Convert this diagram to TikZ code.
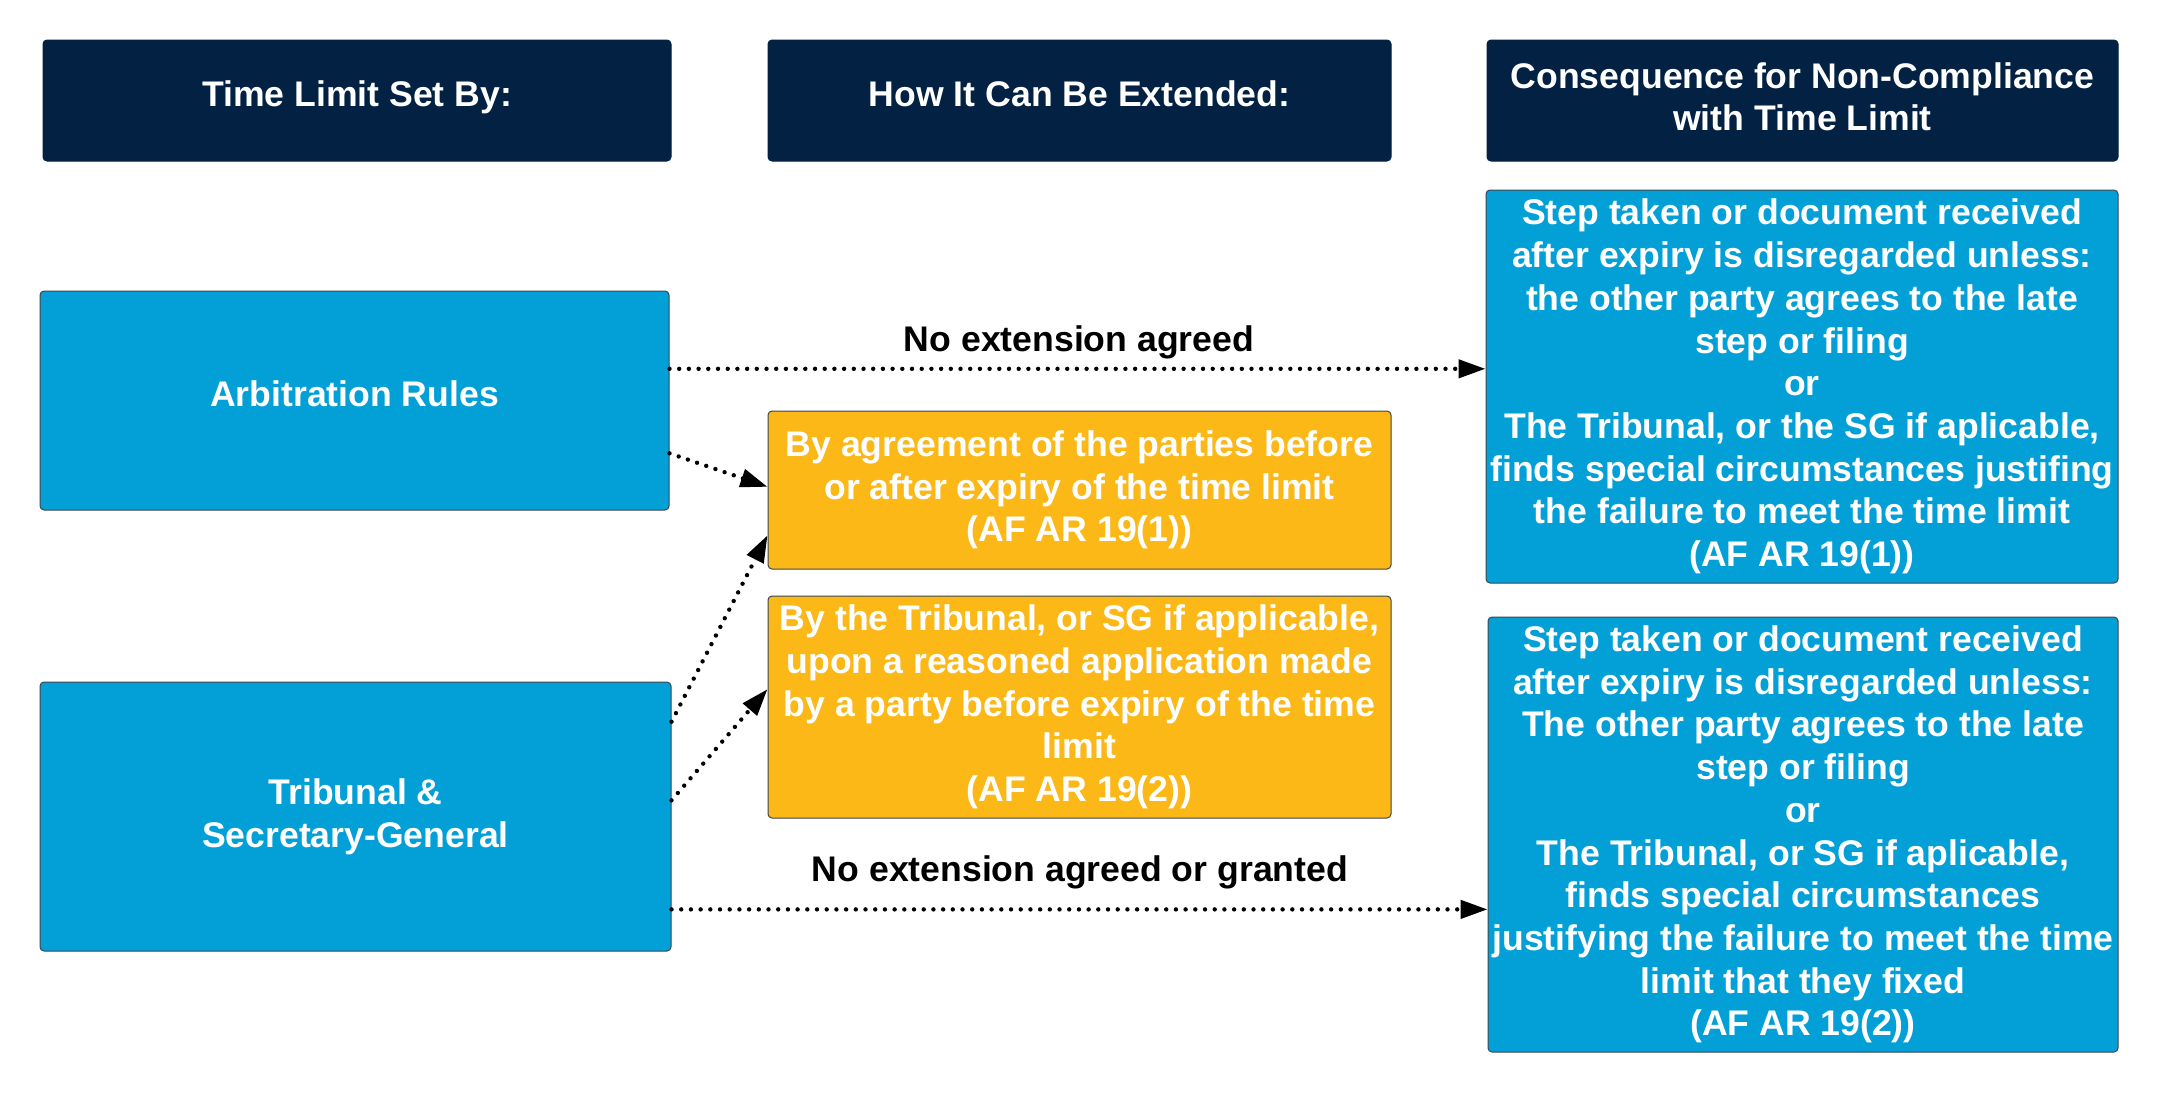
\documentclass[tikz,border=0pt]{standalone}
\usepackage{fontspec}
\setmainfont{Liberation Sans}
\usetikzlibrary{arrows.meta,calc}
\definecolor{navy}{HTML}{022143}
\definecolor{skyblue}{HTML}{03A0D8}
\definecolor{amber}{HTML}{FBB817}
\definecolor{edgegray}{HTML}{3C4650}
\begin{document}
\begin{tikzpicture}[x=0.5pt,y=-0.5pt,
  txt/.style={font=\fontsize{17.8pt}{21.35pt}\selectfont\bfseries, text=white, align=center, inner sep=0pt},
  headbox/.style={txt, fill=navy, draw=navy, line width=0.5pt, rounded corners=2pt},
  bluebox/.style={txt, fill=skyblue, draw=edgegray, line width=0.5pt, rounded corners=2pt},
  ambox/.style={txt, fill=amber, draw=edgegray, line width=0.5pt, rounded corners=2pt},
  oneline/.style={text height=12.5pt, text depth=6.5pt},
  lbl/.style={font=\fontsize{17.8pt}{21.35pt}\selectfont\bfseries, text=black, inner sep=0pt},
  conn/.style={line width=2.2pt, line cap=round, dash pattern=on 0pt off 4.85pt, -{Triangle[length=13.5pt,width=9pt]}}
]
\useasboundingbox (0,0) rectangle (2161,1093);
% headers
\node[headbox, oneline, minimum width=314pt, minimum height=60.5pt] (h1) at (357,100.5) {Time Limit Set By:};
\node[headbox, oneline, minimum width=311.5pt, minimum height=60.5pt] (h2) at (1079.5,100.5) {How It Can Be Extended:};
\node[headbox, text depth=4pt, minimum width=315.5pt, minimum height=60.5pt] (h3) at (1802.5,100.5) {Consequence for Non-Compliance\\with Time Limit};
% left column
\node[bluebox, oneline, minimum width=314.5pt, minimum height=109.5pt] (ar) at (354.5,400.5) {Arbitration Rules};
\node[bluebox, minimum width=315.5pt, minimum height=134.5pt] (tr) at (355.5,816.5) {Tribunal \&\\Secretary-General};
% middle column
\node[ambox, minimum width=311.5pt, minimum height=79pt] (o1) at (1079.5,490) {By agreement of the parties before\\or after expiry of the time limit\\(AF AR 19(1))};
\node[ambox, minimum width=311.5pt, minimum height=111pt] (o2) at (1079.5,707) {By the Tribunal, or SG if applicable,\\upon a reasoned application made\\by a party before expiry of the time\\limit\\(AF AR 19(2))};
% right column
\node[bluebox, minimum width=316pt, minimum height=196.5pt] (r1) at (1802,386.5) {Step taken or document received\\after expiry is disregarded unless:\\the other party agrees to the late\\step or filing\\or\\The Tribunal, or the SG if aplicable,\\finds special circumstances justifing\\the failure to meet the time limit\\(AF AR 19(1))};
\node[bluebox, minimum width=315pt, minimum height=217.5pt] (r2) at (1803,834.5) {Step taken or document received\\after expiry is disregarded unless:\\The other party agrees to the late\\step or filing\\or\\The Tribunal, or SG if aplicable,\\finds special circumstances\\justifying the failure to meet the time\\limit that they fixed\\(AF AR 19(2))};
% connectors
\coordinate (a1) at ($(ar.north east)!0.356!(ar.south east)$);
\draw[conn] (a1) -- (a1 -| r1.west);
\node[lbl] (l1) at (1079,342) {No extension agreed};
\draw[conn] ($(ar.north east)!0.74!(ar.south east)$) -- ($(o1.north west)!0.48!(o1.south west)$);
\draw[conn] ($(tr.north east)!0.149!(tr.south east)$) -- ($(o1.north west)!0.785!(o1.south west)$);
\draw[conn] ($(tr.north east)!0.44!(tr.south east)$) -- ($(o2.north west)!0.42!(o2.south west)$);
\coordinate (a5) at ($(tr.north east)!0.844!(tr.south east)$);
\draw[conn] (a5) -- (a5 -| r2.west);
\node[lbl] (l2) at (1080,872) {No extension agreed or granted};
\end{tikzpicture}
\end{document}
